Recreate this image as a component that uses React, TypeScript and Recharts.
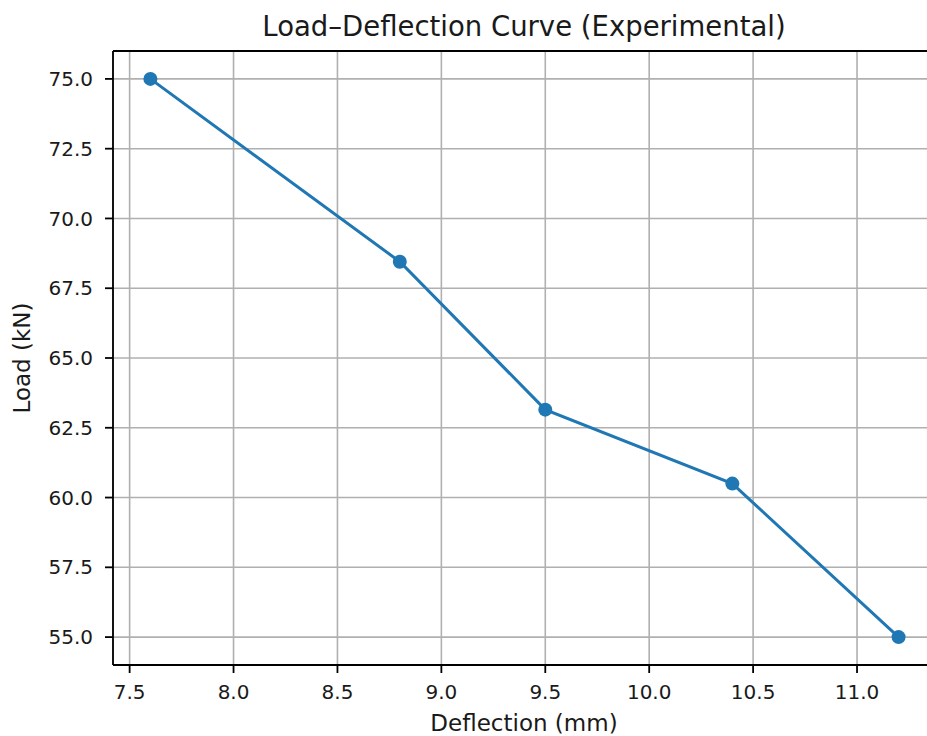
import React from 'react';
import { LineChart, Line, XAxis, YAxis, CartesianGrid, ReferenceLine } from 'recharts';

// measured deflection vs load
const deflection = [7.6, 8.8, 9.5, 10.4, 11.2];
const load = [75.0, 68.45, 63.15, 60.5, 55.0];

const xTicks = [7.5, 8.0, 8.5, 9.0, 9.5, 10.0, 10.5, 11.0];
const yTicks = [55.0, 57.5, 60.0, 62.5, 65.0, 67.5, 70.0, 72.5, 75.0];

const xDomain = [7.42, 11.38];
const yDomain = [54, 76];

const FONT = '"DejaVu Sans", sans-serif';
const TEXT = '#1a1a1a';

const data = deflection.map((d, i) => ({ x: d, y: load[i] }));

const tickStyle = { fill: TEXT, fontSize: 20, fontFamily: FONT };

const App: React.FC = () => {
  return (
    <div style={{ position: 'absolute', left: 0, top: 0, width: 927, height: 736, overflow: 'hidden', background: '#fff' }}>
      <LineChart width={950} height={736} data={data} margin={{ top: 51, right: 14, left: 0, bottom: 0 }}>
        <CartesianGrid stroke="#b0b0b0" strokeWidth={1.6} />
        <XAxis
          dataKey="x"
          type="number"
          domain={xDomain}
          ticks={xTicks}
          allowDataOverflow
          height={71}
          tickSize={8}
          tickMargin={12}
          tick={tickStyle}
          tickFormatter={(v: number) => v.toFixed(1)}
          axisLine={{ stroke: '#000', strokeWidth: 1.8 }}
          tickLine={{ stroke: '#000', strokeWidth: 1.8 }}
        />
        <YAxis
          type="number"
          domain={yDomain}
          ticks={yTicks}
          allowDataOverflow
          width={113}
          tickSize={8}
          tickMargin={12}
          tick={tickStyle}
          tickFormatter={(v: number) => v.toFixed(1)}
          axisLine={{ stroke: '#000', strokeWidth: 1.8 }}
          tickLine={{ stroke: '#000', strokeWidth: 1.8 }}
        />
        {/* top spine; the right one falls outside the frame */}
        <ReferenceLine y={76} stroke="#000" strokeWidth={1.8} />
        <Line
          type="linear"
          dataKey="y"
          stroke="#1f77b4"
          strokeWidth={3}
          dot={{ r: 7, fill: '#1f77b4', stroke: 'none' }}
          activeDot={false}
          isAnimationActive={false}
        />
      </LineChart>
      <svg width={927} height={736} style={{ position: 'absolute', left: 0, top: 0, pointerEvents: 'none' }}>
        <text x={524} y={36} textAnchor="middle" fontSize={27.5} fontFamily={FONT} fill={TEXT}>
          Load–Deflection Curve (Experimental)
        </text>
        <text x={524} y={731} textAnchor="middle" fontSize={23} fontFamily={FONT} fill={TEXT}>
          Deflection (mm)
        </text>
        <text x={30} y={358} textAnchor="middle" fontSize={23} fontFamily={FONT} fill={TEXT} transform="rotate(-90 30 358)">
          Load (kN)
        </text>
      </svg>
    </div>
  );
};

export default App;
